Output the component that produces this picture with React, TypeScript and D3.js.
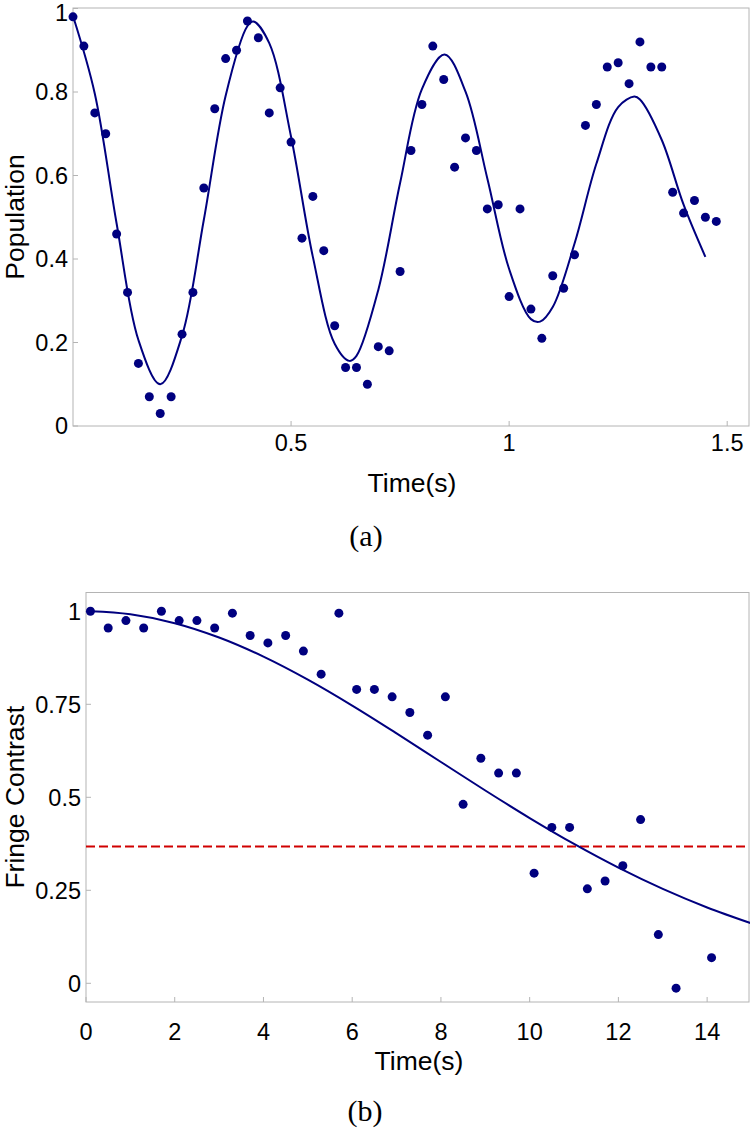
import React from "react";
import * as d3 from "d3";

// ---------- Panel (a) data ----------
const timeA: number[] = [
  0, 0.025, 0.05, 0.075, 0.1, 0.125, 0.15, 0.175, 0.2, 0.225,
  0.25, 0.275, 0.3, 0.325, 0.35, 0.375, 0.4, 0.425, 0.45, 0.475,
  0.5, 0.525, 0.55, 0.575, 0.6, 0.625, 0.65, 0.675, 0.7, 0.725,
  0.75, 0.775, 0.8, 0.825, 0.85, 0.875, 0.9, 0.925, 0.95, 0.975,
  1.0, 1.025, 1.05, 1.075, 1.1, 1.125, 1.15, 1.175, 1.2, 1.225,
  1.25, 1.275, 1.3, 1.325, 1.35, 1.375, 1.4, 1.425, 1.45, 1.475,
];
const populationA: number[] = [
  0.98, 0.91, 0.75, 0.7, 0.46, 0.32, 0.15, 0.07, 0.03, 0.07,
  0.22, 0.32, 0.57, 0.76, 0.88, 0.9, 0.97, 0.93, 0.75, 0.81,
  0.68, 0.45, 0.55, 0.42, 0.24, 0.14, 0.14, 0.1, 0.19, 0.18,
  0.37, 0.66, 0.77, 0.91, 0.83, 0.62, 0.69, 0.66, 0.52, 0.53,
  0.31, 0.52, 0.28, 0.21, 0.36, 0.33, 0.41, 0.72, 0.77, 0.86,
  0.87, 0.82, 0.92, 0.86, 0.86, 0.56, 0.51, 0.54, 0.5, 0.49,
];
// fitted curve
const fitTimeA: number[] = [
  0, 0.05, 0.1, 0.15, 0.2, 0.25, 0.3, 0.35, 0.4, 0.4135, 0.45, 0.5,
  0.55, 0.6, 0.634, 0.65, 0.7, 0.75, 0.8, 0.852, 0.9, 0.95, 1.0,
  1.05, 1.071, 1.1, 1.15, 1.2, 1.25, 1.287, 1.3, 1.35, 1.4, 1.45,
];
const fitValueA: number[] = [
  0.982, 0.796, 0.485, 0.206, 0.1, 0.216, 0.494, 0.791, 0.958, 0.969, 0.917, 0.693,
  0.405, 0.197, 0.156, 0.168, 0.326, 0.582, 0.807, 0.89, 0.801, 0.593, 0.376,
  0.256, 0.25, 0.285, 0.437, 0.628, 0.764, 0.789, 0.782, 0.685, 0.53, 0.405,
];
const xTicksA: number[] = [0.5, 1, 1.5];
const xTickLabelsA: string[] = ["0.5", "1", "1.5"];
const yTicksA: number[] = [0, 0.2, 0.4, 0.6, 0.8, 1];
const yTickLabelsA: string[] = ["0", "0.2", "0.4", "0.6", "0.8", "1"];

// ---------- Panel (b) data ----------
const timeB: number[] = [
  0.1, 0.5, 0.9, 1.3, 1.7, 2.1, 2.5, 2.9, 3.3, 3.7, 4.1, 4.5,
  4.9, 5.3, 5.7, 6.1, 6.5, 6.9, 7.3, 7.7, 8.1, 8.5, 8.9, 9.3,
  9.7, 10.1, 10.5, 10.9, 11.3, 11.7, 12.1, 12.5, 12.9, 13.3, 14.1,
];
const contrastB: number[] = [
  1.0, 0.955, 0.975, 0.955, 1.0, 0.975, 0.975, 0.955, 0.995, 0.935, 0.915, 0.935,
  0.893, 0.831, 0.995, 0.79, 0.79, 0.77, 0.728, 0.667, 0.77, 0.481, 0.605, 0.565,
  0.565, 0.296, 0.419, 0.419, 0.254, 0.275, 0.316, 0.44, 0.131, -0.013, 0.069,
];
const fitTimeB: number[] = [0.1, 1, 2, 3, 4, 5, 6, 7, 8, 9, 10, 11, 12, 13, 14, 15];
const fitValueB: number[] = [
  1.0, 0.9919, 0.9681, 0.9296, 0.8782, 0.8163, 0.7466, 0.6719, 0.5949, 0.5182,
  0.4441, 0.3745, 0.3108, 0.2537, 0.2038, 0.161,
];
const thresholdB = 0.368;
const xTicksB: number[] = [0, 2, 4, 6, 8, 10, 12, 14];
const xTickLabelsB: string[] = ["0", "2", "4", "6", "8", "10", "12", "14"];
const yTicksB: number[] = [0, 0.25, 0.5, 0.75, 1];
const yTickLabelsB: string[] = ["0", "0.25", "0.5", "0.75", "1"];

const NAVY = "#00007f";
const FRAME = "#b4b4b4";
const SANS = "'Liberation Sans', Arial, Helvetica, sans-serif";
const SERIF = "'Liberation Serif', 'Times New Roman', serif";

type PanelProps = {
  left: number;
  right: number;
  top: number;
  bottom: number;
  xDomain: [number, number];
  xRange: [number, number];
  yDomain: [number, number];
  yRange: [number, number];
  xTicks: number[];
  xTickLabels: string[];
  yTicks: number[];
  yTickLabels: string[];
  xs: number[];
  ys: number[];
  fitX: number[];
  fitY: number[];
  yLabel: string;
  xLabelX: number;
  xLabelY: number;
  xTickY: number;
  caption: string;
  captionX: number;
  captionY: number;
  threshold?: number;
};

function Panel(p: PanelProps) {
  const x = d3.scaleLinear().domain(p.xDomain).range(p.xRange);
  const y = d3.scaleLinear().domain(p.yDomain).range(p.yRange);
  const line = d3
    .line<number>()
    .x((_, i) => x(p.fitX[i]))
    .y((d) => y(d))
    .curve(d3.curveCatmullRom.alpha(0.5));
  const fitPath = line(p.fitY) || "";
  const tickLen = 5;
  return (
    <g>
      <rect
        x={p.left}
        y={p.top}
        width={p.right - p.left}
        height={p.bottom - p.top}
        fill="none"
        stroke={FRAME}
        strokeWidth={1}
      />
      {p.xTicks.map((t, i) => (
        <g key={"xt" + i}>
          <line x1={x(t)} x2={x(t)} y1={p.bottom} y2={p.bottom - tickLen} stroke={FRAME} />
          <text
            x={x(t)}
            y={p.xTickY}
            textAnchor="middle"
            fontFamily={SANS}
            fontSize={23.5}
            fill="#000"
          >
            {p.xTickLabels[i]}
          </text>
        </g>
      ))}
      {p.yTicks.map((t, i) => (
        <g key={"yt" + i}>
          <line x1={p.left} x2={p.left + tickLen} y1={y(t)} y2={y(t)} stroke={FRAME} />
          <text
            x={p.left - 5}
            y={Math.max(y(t), 13)}
            dy="0.36em"
            textAnchor="end"
            fontFamily={SANS}
            fontSize={23.5}
            fill="#000"
          >
            {p.yTickLabels[i]}
          </text>
        </g>
      ))}
      {p.threshold !== undefined && (
        <line
          x1={p.left}
          x2={p.right}
          y1={y(p.threshold)}
          y2={y(p.threshold)}
          stroke="#d00000"
          strokeWidth={2}
          strokeDasharray="9,4"
        />
      )}
      <path d={fitPath} fill="none" stroke={NAVY} strokeWidth={2} />
      {p.xs.map((t, i) => (
        <circle key={"pt" + i} cx={x(t)} cy={y(p.ys[i])} r={4.5} fill={NAVY} />
      ))}
      <text
        transform={`translate(24,${(p.top + p.bottom) / 2}) rotate(-90)`}
        textAnchor="middle"
        fontFamily={SANS}
        fontSize={26.5}
        fill="#000"
      >
        {p.yLabel}
      </text>
      <text
        x={p.xLabelX}
        y={p.xLabelY}
        textAnchor="middle"
        fontFamily={SANS}
        fontSize={26.5}
        fill="#000"
      >
        Time(s)
      </text>
      <text
        x={p.captionX}
        y={p.captionY}
        textAnchor="middle"
        fontFamily={SERIF}
        fontSize={30}
        fill="#000"
      >
        {p.caption}
      </text>
    </g>
  );
}

export default function App() {
  return (
    <svg
      width={750}
      height={1128}
      viewBox="0 0 750 1128"
      style={{ position: "absolute", left: 0, top: 0, background: "#fff" }}
    >
      <rect x={0} y={0} width={750} height={1128} fill="#fff" />
      <Panel
        left={73}
        right={749}
        top={8}
        bottom={426}
        xDomain={[0, 1.55]}
        xRange={[73, 749]}
        yDomain={[0, 1]}
        yRange={[426, 8.5]}
        xTicks={xTicksA}
        xTickLabels={xTickLabelsA}
        yTicks={yTicksA}
        yTickLabels={yTickLabelsA}
        xs={timeA}
        ys={populationA}
        fitX={fitTimeA}
        fitY={fitValueA}
        yLabel="Population"
        xLabelX={412}
        xLabelY={492}
        xTickY={451}
        caption="(a)"
        captionX={366}
        captionY={546}
      />
      <Panel
        left={86}
        right={749}
        top={592.5}
        bottom={1002}
        xDomain={[0, 15]}
        xRange={[86, 751.5]}
        yDomain={[-0.05, 1.05]}
        yRange={[1001.9, 592.7]}
        xTicks={xTicksB}
        xTickLabels={xTickLabelsB}
        yTicks={yTicksB}
        yTickLabels={yTickLabelsB}
        xs={timeB}
        ys={contrastB}
        fitX={fitTimeB}
        fitY={fitValueB}
        yLabel="Fringe Contrast"
        xLabelX={419}
        xLabelY={1070}
        xTickY={1040}
        caption="(b)"
        captionX={365}
        captionY={1121}
        threshold={thresholdB}
      />
    </svg>
  );
}
